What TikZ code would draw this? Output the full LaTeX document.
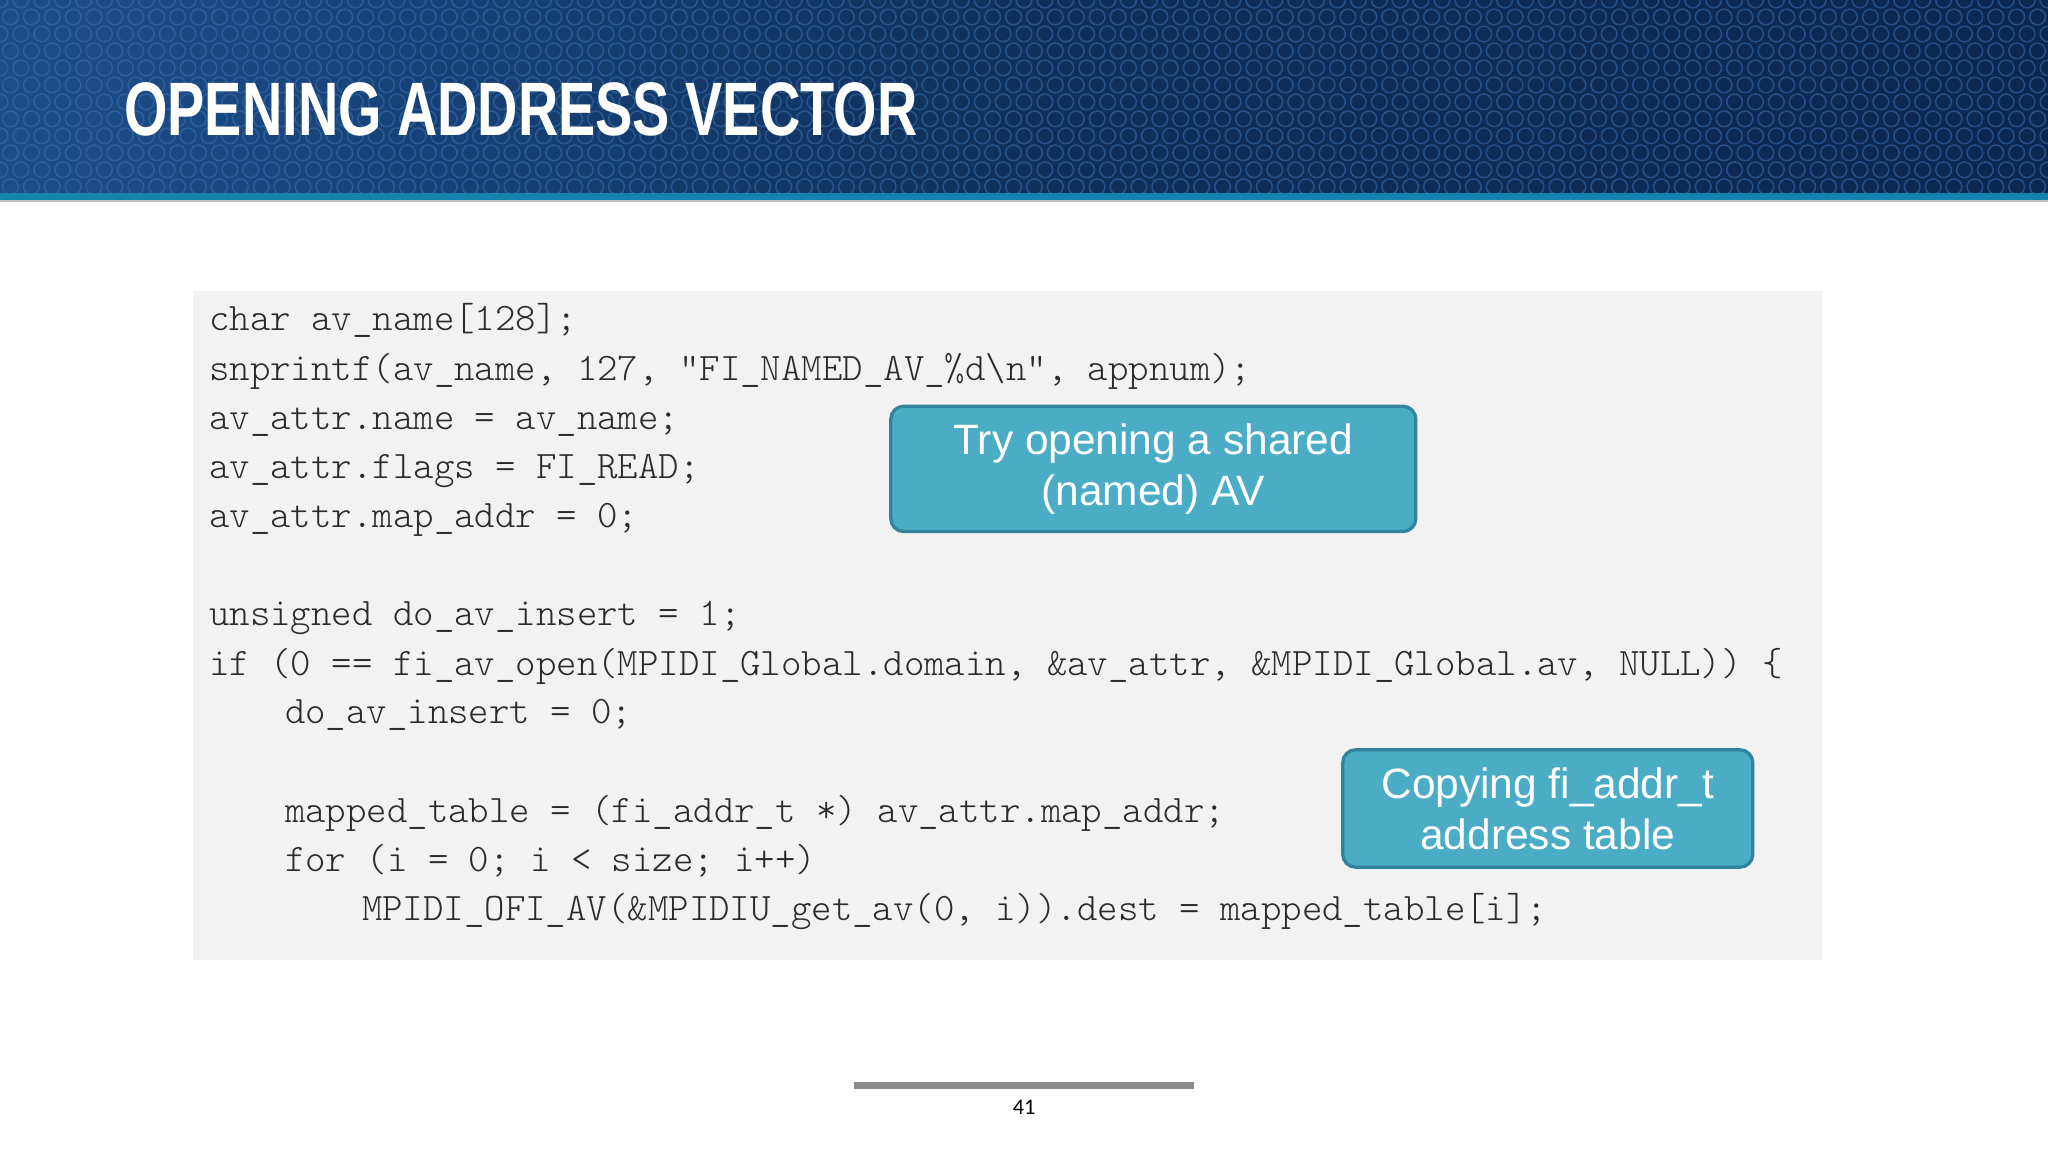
\documentclass[tikz,border=0pt]{standalone}
\usepackage{fontspec}
\setmainfont{Carlito}
\newfontfamily\titlefont{Liberation Sans}
\newfontfamily\codefont{Latin Modern Mono Light}
\definecolor{hdrdark}{HTML}{0B2850}
\definecolor{hdrmid}{HTML}{1D4E8A}
\definecolor{hexc}{HTML}{3A6FB0}
\definecolor{codebg}{HTML}{F2F2F2}
\definecolor{codefg}{HTML}{2A2A2A}
\definecolor{callfill}{HTML}{4BACC6}
\definecolor{callbord}{HTML}{31849B}
\tikzset{
  codeline/.style={anchor=base west, inner sep=0pt, font=\fontsize{29.8}{30}\selectfont\codefont, text=codefg},
  callout/.style={draw=callbord, line width=2.5pt, fill=callfill, rounded corners=10pt, text=white, align=center, font=\fontsize{32.5}{39}\selectfont\titlefont},
}
\begin{document}
\begin{tikzpicture}[x=1pt,y=-1pt]
\useasboundingbox (0,0) rectangle (1568,882);
\fill[white] (0,0) rectangle (1568,882);
% header
\shade[left color=hdrmid, right color=hdrdark, middle color=hdrdark!80!hdrmid] (0,0) rectangle (1568,148);
\begin{scope}
\clip (0,0) rectangle (1568,148);
\foreach \r in {0,...,12}{
  \foreach \c in {0,...,98}{
    \pgfmathsetmacro{\xx}{\c*16+mod(\r,2)*8}
    \draw[hexc, opacity=0.55, line width=1.2pt] (\xx,\r*13) circle (6);
  }}
\end{scope}
\fill[hdrmid!70!cyan] (0,148) rectangle (1568,153);
\fill[black!25] (0,153) rectangle (1568,155);
\node[anchor=base west, inner sep=0pt, text=white, font=\fontsize{58}{58}\selectfont\titlefont\bfseries, xscale=0.737, transform shape] (title) at (95,104) {OPENING ADDRESS VECTOR};
% code box
\fill[codebg] (148,223) rectangle (1395,735);
\node[codeline] (l1) at (160,253) {char av\_name[128];};
\node[codeline] (l2) at (160,291) {snprintf(av\_name, 127, "FI\_NAMED\_AV\_\%d\textbackslash n", appnum);};
\node[codeline] (l3) at (160,329) {av\_attr.name = av\_name;};
\node[codeline] (l4) at (160,366) {av\_attr.flags = FI\_READ;};
\node[codeline] (l5) at (160,404) {av\_attr.map\_addr = 0;};
\node[codeline] (l6) at (160,479) {unsigned do\_av\_insert = 1;};
\node[codeline] (l7) at (160,517) {if (0 == fi\_av\_open(MPIDI\_Global.domain, \&av\_attr, \&MPIDI\_Global.av, NULL)) \{};
\node[codeline] (l8) at (218,554) {do\_av\_insert = 0;};
\node[codeline] (l9) at (218,630) {mapped\_table = (fi\_addr\_t *) av\_attr.map\_addr;};
\node[codeline] (l10) at (218,667) {for (i = 0; i < size; i++)};
\node[codeline] (l11) at (277,705) {MPIDI\_OFI\_AV(\&MPIDIU\_get\_av(0, i)).dest = mapped\_table[i];};
% callouts
\node[callout, minimum width=402pt, minimum height=96pt] (c1) at (883,359) {Try opening a shared\\(named) AV};
\node[callout, minimum width=314pt, minimum height=90pt] (c2) at (1185,619) {Copying fi\_addr\_t\\address table};
% footer
\draw[line width=5pt, black!45] (654,831) -- (914,831);
\node[font=\fontsize{17}{17}\selectfont, text=black] (pg) at (784,848) {41};
\end{tikzpicture}
\end{document}
